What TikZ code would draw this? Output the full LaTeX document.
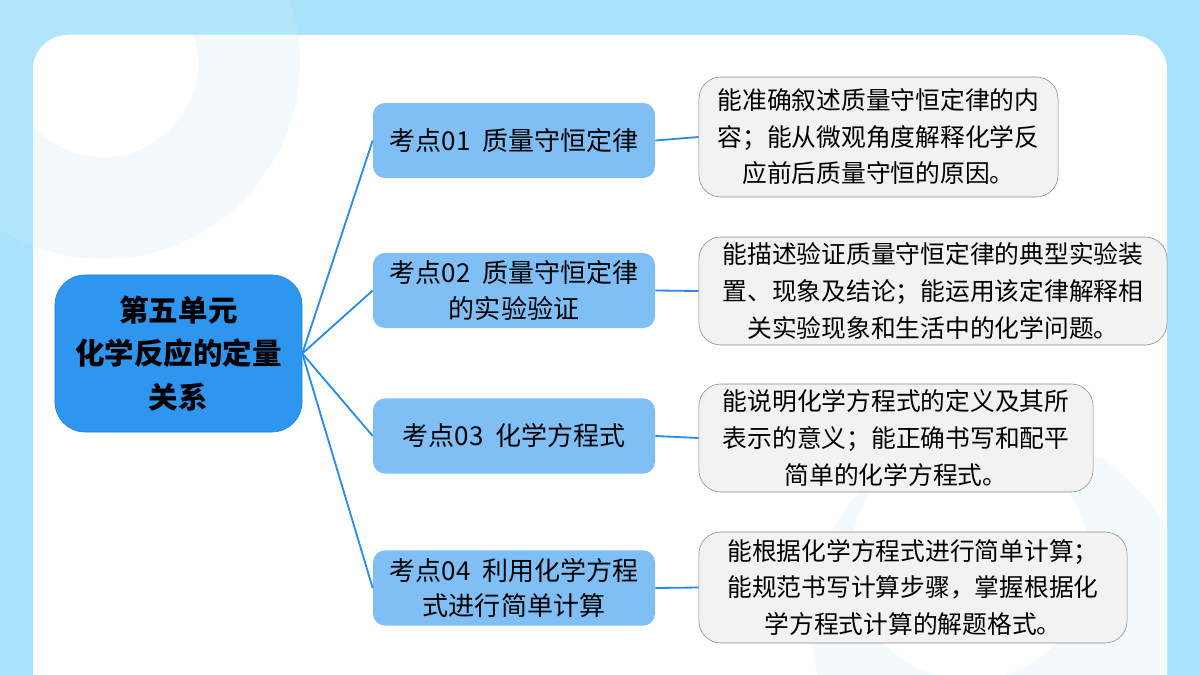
\documentclass[tikz,border=0pt]{standalone}
\usepackage{fontspec}
\setmainfont{Noto Sans CJK SC}
\usepackage{xcolor}
\definecolor{skybg}{HTML}{A9E2FB}
\definecolor{ringbg}{HTML}{F3FAFE}
\definecolor{rootblue}{HTML}{2E96EE}
\definecolor{rootedge}{HTML}{1F7FD6}
\definecolor{topicblue}{HTML}{80BFF5}
\definecolor{linkblue}{HTML}{2A8CEA}
\definecolor{notegray}{HTML}{F2F2F2}
\definecolor{noteedge}{HTML}{8A8A8A}
\usepackage{tikz}
\usetikzlibrary{positioning}

\begin{document}
\begin{tikzpicture}[
    x=0.025cm, y=-0.025cm,
    root/.style={draw=rootedge, fill=rootblue, rounded corners=0.75cm, align=center,
                 minimum width=6.175cm, minimum height=3.925cm, inner sep=0pt,
                 font=\fontsize{21}{31}\selectfont\bfseries},
    topic/.style={fill=topicblue, rounded corners=0.3cm, align=center,
                  minimum width=7.05cm, minimum height=1.875cm, inner sep=0pt,
                  font=\fontsize{18.5}{25.5}\selectfont},
    note/.style={draw=noteedge, fill=notegray, rounded corners=0.55cm, align=center,
                 minimum height=2.7cm, inner sep=0pt,
                 font=\fontsize{17.6}{26}\selectfont},
    link/.style={draw=linkblue, line width=1.3pt}
  ]
    % background and panel
    \useasboundingbox (0,0) rectangle (1200,675);
    \fill[skybg] (0,0) rectangle (1200,675);
    \begin{scope}
      \clip (0,0) rectangle (1200,675);
      \fill[white!10!skybg] (103,62) circle (197);
      \fill[white, rounded corners=0.875cm] (33,35) rectangle (1167,720);
    \end{scope}
    \begin{scope}
      \clip[rounded corners=0.875cm] (33,35) rectangle (1167,720);
      \fill[ringbg] (103,62) circle (197);
      \fill[white] (103,62) circle (95);
      \fill[ringbg] (1000,620) circle (190);
      \fill[white] (970,560) circle (120);
    \end{scope}

    % root and topics
    \node[root] (unit) at (178.5,353.5)
      {第五单元\\化学反应的定量\\关系};
    \node[topic] (k1) at (514,140.5) {考点01\ \ 质量守恒定律};
    \node[topic] (k2) at (514,290.5) {考点02\ \ 质量守恒定律\\的实验验证};
    \node[topic] (k3) at (514,436) {考点03\ \ 化学方程式};
    \node[topic] (k4) at (514,588) {考点04\ \ 利用化学方程\\式进行简单计算};

    % requirement notes
    \node[note, minimum width=8.975cm, minimum height=3cm] (n1) at (878.5,137)
      {能准确叙述质量守恒定律的内\\容；能从微观角度解释化学反\\应前后质量守恒的原因。};
    \node[note, minimum width=11.7cm] (n2) at (933,291)
      {能描述验证质量守恒定律的典型实验装\\置、现象及结论；能运用该定律解释相\\关实验现象和生活中的化学问题。};
    \node[note, minimum width=9.85cm] (n3) at (896,438)
      {能说明化学方程式的定义及其所\\表示的意义；能正确书写和配平\\简单的化学方程式。};
    \node[note, minimum width=10.7cm, minimum height=2.775cm] (n4) at (913,587.5)
      {能根据化学方程式进行简单计算；\\能规范书写计算步骤，掌握根据化\\学方程式计算的解题格式。};

    \foreach \k in {k1,k2,k3,k4}
      \draw[link] (unit.east) -- (\k.west);
    \foreach \k/\n in {k1/n1,k2/n2,k3/n3,k4/n4}
      \draw[link] (\k.east) -- (\n.west);
  \end{tikzpicture}
\end{document}
